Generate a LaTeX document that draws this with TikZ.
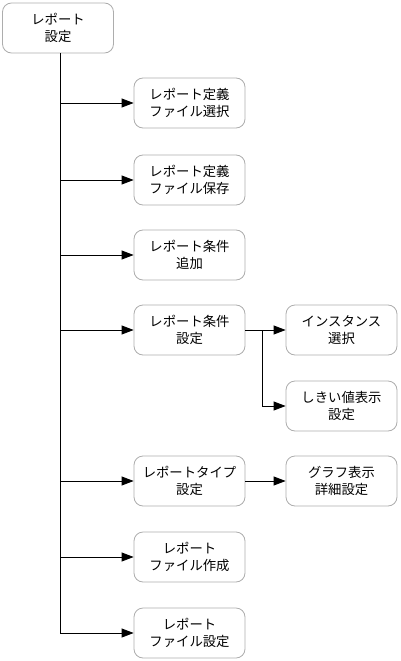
\documentclass[tikz,border=0pt]{standalone}
\usepackage{fontspec}
\newfontfamily\cjk{Noto Sans CJK JP}
\usetikzlibrary{arrows.meta}
\begin{document}
\begin{tikzpicture}[x=1bp,y=-1bp,
  box/.style={draw=black!32, line width=0.8bp, rounded corners=9bp, fill=white,
    minimum width=111bp, minimum height=50bp, inner sep=0pt, align=center,
    font=\cjk\fontsize{13.4}{17.5}\selectfont},
  conn/.style={line width=0.8bp, -{Triangle[length=12bp,width=9bp]}},
  plain/.style={line width=0.8bp}]
\useasboundingbox (0,0) rectangle (400,661);
\node[box] (root) at (58,28) {レポート\\設定};
\node[box] (a) at (189.5,103) {レポート定義\\ファイル選択};
\node[box] (b) at (189.5,180) {レポート定義\\ファイル保存};
\node[box] (c) at (189.5,255) {レポート条件\\追加};
\node[box] (d) at (189.5,330) {レポート条件\\設定};
\node[box] (d1) at (341.5,330) {インスタンス\\選択};
\node[box] (d2) at (341.5,406) {しきい値表示\\設定};
\node[box] (e) at (189.5,481) {レポートタイプ\\設定};
\node[box] (e1) at (341.5,481) {グラフ表示\\詳細設定};
\node[box] (f) at (189.5,557) {レポート\\ファイル作成};
\node[box] (g) at (189.5,633) {レポート\\ファイル設定};
\coordinate (tend) at (60,633);
\coordinate (br) at (262,330);
\draw[plain] (60,53) -- (tend);
\foreach \n in {a,b,c,d,e,f,g}
  \draw[conn] (60,0 |- \n.west) -- (\n.west);
\draw[conn] (d.east) -- (d1.west);
\draw[conn] (br) |- (d2.west);
\draw[conn] (e.east) -- (e1.west);
\end{tikzpicture}
\end{document}
